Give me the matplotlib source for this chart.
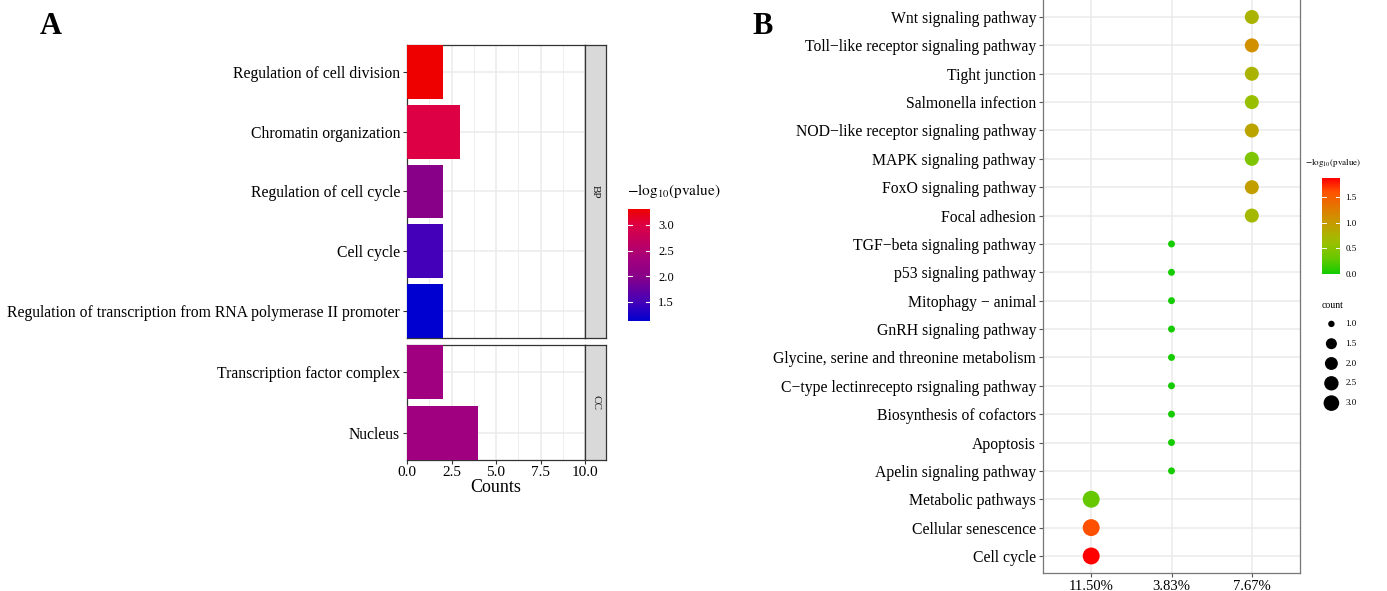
import numpy as np
import matplotlib
matplotlib.use("Agg")
import matplotlib.pyplot as plt
from matplotlib.colors import LinearSegmentedColormap, Normalize
from matplotlib.colorbar import ColorbarBase

plt.rcParams['font.family'] = ['Liberation Serif', 'DejaVu Serif']
plt.rcParams['mathtext.fontset'] = 'stix'

# --- data: panel A (GO terms) ---
bp_terms = ['Regulation of cell division', 'Chromatin organization',
            'Regulation of cell cycle', 'Cell cycle',
            'Regulation of transcription from RNA polymerase II promoter']
bp_counts = [2, 3, 2, 2, 2]
bp_logp = [3.31, 3.0, 2.0, 1.5, 1.13]

cc_terms = ['Transcription factor complex', 'Nucleus']
cc_counts = [2, 4]
cc_logp = [2.3, 2.3]

# --- data: panel B (KEGG pathways) ---
kegg_terms = ['Wnt signaling pathway', 'Toll\u2212like receptor signaling pathway',
              'Tight junction', 'Salmonella infection',
              'NOD\u2212like receptor signaling pathway', 'MAPK signaling pathway',
              'FoxO signaling pathway', 'Focal adhesion',
              'TGF\u2212beta signaling pathway', 'p53 signaling pathway',
              'Mitophagy \u2212 animal', 'GnRH signaling pathway',
              'Glycine, serine and threonine metabolism',
              'C\u2212type lectinrecepto rsignaling pathway',
              'Biosynthesis of cofactors', 'Apoptosis', 'Apelin signaling pathway',
              'Metabolic pathways', 'Cellular senescence', 'Cell cycle']
kegg_ratio = ['7.67%'] * 8 + ['3.83%'] * 9 + ['11.50%'] * 3
kegg_count = [2] * 8 + [1] * 9 + [3] * 3
kegg_logp = [0.75, 1.1, 0.75, 0.6, 0.9, 0.45, 0.95, 0.7,
             0.02, 0.02, 0.02, 0.02, 0.02, 0.02, 0.02, 0.02, 0.02,
             0.3, 1.6, 1.87]
ratio_levels = ['11.50%', '3.83%', '7.67%']

W, H = 1387, 591
fig = plt.figure(figsize=(W / 100, H / 100), dpi=100)


def box(x0, y0, x1, y1):
    # pixel box -> figure coords
    return [x0 / W, 1 - y1 / H, (x1 - x0) / W, (y1 - y0) / H]


cmap_a = LinearSegmentedColormap.from_list(
    'br', [(0, '#0000D0'), (0.17, '#4400B8'), (0.40, '#880088'),
           (0.54, '#A0007F'), (0.86, '#DD0044'), (1.0, '#EE0000')])
norm_a = Normalize(1.13, 3.31)

cmap_b = LinearSegmentedColormap.from_list(
    'gr', [(0, '#11CC00'), (0.16, '#66C800'), (0.32, '#99C000'),
           (0.40, '#AAB400'), (0.5, '#C0A000'), (0.59, '#D09000'),
           (0.86, '#FF5000'), (1.0, '#FF0000')])
norm_b = Normalize(0, 1.87)

grid_c = '#EBEBEB'
frame_c = '#333333'
lab_fs = 11.3


def facet(rect, terms, counts, vals, strip_rect, strip_label, show_x):
    ax = fig.add_axes(rect)
    y = np.arange(len(terms))
    ax.barh(y, counts, height=0.9, color=cmap_a(norm_a(vals)), zorder=3)
    ax.set_xlim(0, 10)
    ax.set_ylim(len(terms) - 0.55, -0.45)
    ax.set_yticks(y)
    ax.set_yticklabels(terms, fontsize=lab_fs, color='black')
    ax.set_xticks([0, 2.5, 5, 7.5, 10])
    ax.set_xticks([1.25, 3.75, 6.25, 8.75], minor=True)
    ax.grid(True, which='major', color=grid_c, lw=1.1, zorder=0)
    ax.grid(True, which='minor', axis='x', color=grid_c, lw=0.6, zorder=0)
    ax.tick_params(axis='y', length=3, color=frame_c, pad=2)
    ax.tick_params(axis='x', which='minor', length=0)
    if show_x:
        ax.set_xticklabels(['0.0', '2.5', '5.0', '7.5', '10.0'], fontsize=11)
        ax.tick_params(axis='x', length=3, color=frame_c, pad=1)
        ax.set_xlabel('Counts', fontsize=13, labelpad=0)
    else:
        ax.tick_params(axis='x', length=0, labelbottom=False)
    for s in ax.spines.values():
        s.set_color(frame_c)
        s.set_linewidth(0.9)
    sax = fig.add_axes(strip_rect)
    sax.set_facecolor('#D9D9D9')
    sax.set_xticks([])
    sax.set_yticks([])
    for s in sax.spines.values():
        s.set_color(frame_c)
        s.set_linewidth(0.9)
    sax.text(0.5, 0.5, strip_label, rotation=-90, ha='center', va='center',
             fontsize=8, color='#1A1A1A', transform=sax.transAxes)
    return ax


facet(box(407, 45, 585, 338), bp_terms, bp_counts, bp_logp,
      box(585, 45, 606, 338), 'BP', False)
facet(box(407, 345, 585, 460), cc_terms, cc_counts, cc_logp,
      box(585, 345, 606, 460), 'CC', True)

# colorbar A
cax = fig.add_axes(box(628, 209, 650, 321))
cb = ColorbarBase(cax, cmap=cmap_a, norm=norm_a)
cb.set_ticks([1.5, 2.0, 2.5, 3.0])
cb.ax.tick_params(labelsize=9, length=0, pad=6)
cb.outline.set_visible(False)
for t in [1.5, 2.0, 2.5, 3.0]:
    cax.plot([0, 0.2], [t, t], color='white', lw=0.8)
    cax.plot([0.8, 1], [t, t], color='white', lw=0.8)
fig.text(627 / W, 1 - 191 / H, r'$-\mathrm{log}_{10}\mathrm{(pvalue)}$', fontsize=11,
         va='center', ha='left')

fig.text(40 / W, 1 - 27 / H, 'A', fontsize=22, fontweight='bold', va='center')
fig.text(752 / W, 1 - 27 / H, 'B', fontsize=22, fontweight='bold', va='center')

# --- panel B ---
axb = fig.add_axes(box(1043, -2, 1300, 573))
xpos = [ratio_levels.index(r) for r in kegg_ratio]
ypos = np.arange(len(kegg_terms))


def dot_size(c):
    d = 5 + 7.2 * np.sqrt((np.asarray(c, float) - 1) / 2)
    return d ** 2


axb.scatter(xpos, ypos, s=dot_size(kegg_count), c=cmap_b(norm_b(kegg_logp)),
            edgecolors='none', zorder=3)
axb.set_xlim(-0.6, 2.6)
axb.set_ylim(len(kegg_terms) - 0.4, -0.67)
axb.set_xticks(range(len(ratio_levels)))
axb.set_xticklabels(ratio_levels, fontsize=10.5)
axb.set_yticks(ypos)
axb.set_yticklabels(kegg_terms, fontsize=lab_fs)
axb.grid(True, color=grid_c, lw=1.1, zorder=0)
axb.tick_params(length=3, color='#555555', pad=2)
for s in axb.spines.values():
    s.set_color('#777777')
    s.set_linewidth(0.9)

# colorbar B
caxb = fig.add_axes(box(1322, 178, 1340, 274))
cbb = ColorbarBase(caxb, cmap=cmap_b, norm=norm_b)
cbb.set_ticks([0.0, 0.5, 1.0, 1.5])
cbb.ax.tick_params(labelsize=6.5, length=0, pad=4)
cbb.outline.set_visible(False)
for t in [0.5, 1.0, 1.5]:
    caxb.plot([0, 0.2], [t, t], color='white', lw=0.7)
    caxb.plot([0.8, 1], [t, t], color='white', lw=0.7)
fig.text(1305 / W, 1 - 163 / H, r'$-\mathrm{log}_{10}\mathrm{(pvalue)}$', fontsize=6.5,
         va='center', ha='left')

# size legend B
count_keys = [1.0, 1.5, 2.0, 2.5, 3.0]
fig.text(1322 / W, 1 - 305 / H, 'count', fontsize=7, va='center', ha='left')
lax = fig.add_axes(box(1320, 314, 1387, 413))
lax.set_xlim(0, 1)
lax.set_ylim(len(count_keys) - 0.5, -0.5)
lax.scatter([0.17] * len(count_keys), range(len(count_keys)),
            s=dot_size(count_keys) * 0.85, color='black', edgecolors='none')
for i, k in enumerate(count_keys):
    lax.text(0.38, i, f'{k:.1f}', fontsize=6.5, va='center', ha='left')
lax.axis('off')

fig.savefig('out.png', dpi=100)
